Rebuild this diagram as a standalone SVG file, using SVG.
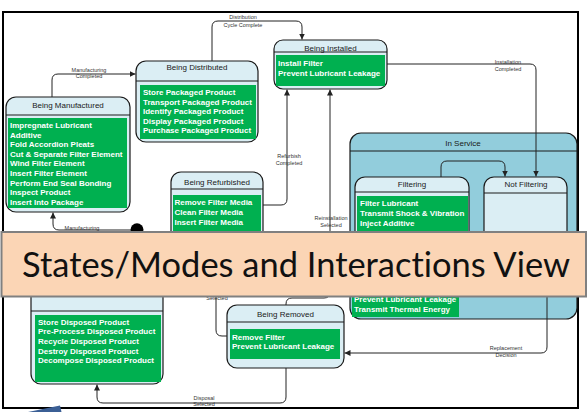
<svg xmlns="http://www.w3.org/2000/svg" width="587" height="412" viewBox="0 0 587 412">
<style>
.box{fill:#dbeef4;stroke:#1a1a1a;stroke-width:1.2}
.svc{fill:#92cddc;stroke:#1a1a1a;stroke-width:1.2}
.sep{stroke:#1a1a1a;stroke-width:1}
.act{fill:#00b050}
.title{font-family:"Liberation Sans",Arial,sans-serif;font-size:8px;fill:#1a1a1a;text-anchor:middle}
.a{font-family:"Liberation Sans",Arial,sans-serif;font-size:8px;font-weight:bold;fill:#ffffff}
.lbl{font-family:"Liberation Sans",Arial,sans-serif;font-size:5.5px;fill:#333333;text-anchor:middle}
.conn{fill:none;stroke:#222222;stroke-width:1}
.ban{font-family:Lato,"Open Sans",sans-serif;font-size:35px;fill:#111111;font-variant-ligatures:none}
</style>
<defs>
<marker id="arr" markerUnits="userSpaceOnUse" markerWidth="6" markerHeight="6" refX="6" refY="3" orient="auto">
<path d="M0,0 L6,3 L0,6 z" fill="#222222"/>
</marker>
</defs>
<rect x="0" y="0" width="587" height="412" fill="#ffffff"/>
<rect x="3" y="12" width="575" height="396" fill="none" stroke="#000000" stroke-width="2"/>

<g id="in-service">
<rect class="svc" x="350" y="133" width="227" height="186" rx="11"/>
<line class="sep" x1="350" y1="151" x2="577" y2="151"/>
<text class="title" x="463" y="145.5">In Service</text>
<rect class="act" x="352" y="268" width="107" height="49"/>
<text class="a" x="354" y="302">Prevent Lubricant Leakage</text>
<text class="a" x="354" y="312">Transmit Thermal Energy</text>
</g>

<g id="filtering">
<rect class="box" x="355" y="177" width="114" height="113" rx="10"/>
<line class="sep" x1="355" y1="192" x2="469" y2="192"/>
<text class="title" x="412" y="186.5">Filtering</text>
<rect class="act" x="357" y="196" width="111" height="92"/>
<text class="a" x="360" y="206">Filter Lubricant</text>
<text class="a" x="360" y="216">Transmit Shock &amp; Vibration</text>
<text class="a" x="360" y="226">Inject Additive</text>
</g>

<g id="not-filtering">
<rect class="box" x="484" y="177" width="83" height="113" rx="10"/>
<line class="sep" x1="484" y1="193" x2="567" y2="193"/>
<text class="title" x="526" y="187">Not Filtering</text>
</g>

<g id="being-manufactured">
<rect class="box" x="6" y="97" width="124" height="115" rx="10"/>
<line class="sep" x1="6" y1="115" x2="130" y2="115"/>
<text class="title" x="68" y="107.5">Being Manufactured</text>
<rect class="act" x="8" y="118" width="119" height="90"/>
<text class="a" x="10" y="128">Impregnate Lubricant</text>
<text class="a" x="10" y="137.6">Additive</text>
<text class="a" x="10" y="147.2">Fold Accordion Pleats</text>
<text class="a" x="10" y="156.8">Cut &amp; Separate Filter Element</text>
<text class="a" x="10" y="166.4">Wind Filter Element</text>
<text class="a" x="10" y="176">Insert Filter Element</text>
<text class="a" x="10" y="185.6">Perform End Seal Bonding</text>
<text class="a" x="10" y="195.2">Inspect Product</text>
<text class="a" x="10" y="204.8">Insert Into Package</text>
</g>

<g id="being-distributed">
<rect class="box" x="136" y="61" width="122" height="81" rx="10"/>
<line class="sep" x1="136" y1="81" x2="258" y2="81"/>
<text class="title" x="197" y="70">Being Distributed</text>
<rect class="act" x="140" y="85" width="116" height="54"/>
<text class="a" x="143" y="95">Store Packaged Product</text>
<text class="a" x="143" y="104.5">Transport Packaged Product</text>
<text class="a" x="143" y="114">Identify Packaged Product</text>
<text class="a" x="143" y="123.5">Display Packaged Product</text>
<text class="a" x="143" y="133">Purchase Packaged Product</text>
</g>

<g id="being-installed">
<rect class="box" x="274" y="40" width="113" height="49" rx="9"/>
<line class="sep" x1="274" y1="52" x2="387" y2="52"/>
<text class="title" x="330.5" y="50.5">Being Installed</text>
<rect class="act" x="276" y="55" width="109" height="31"/>
<text class="a" x="278" y="65.5">Install Filter</text>
<text class="a" x="278" y="75.5">Prevent Lubricant Leakage</text>
</g>

<g id="being-refurbished">
<rect class="box" x="171" y="172" width="92" height="118" rx="10"/>
<line class="sep" x1="171" y1="189" x2="263" y2="189"/>
<text class="title" x="217" y="184.5">Being Refurbished</text>
<rect class="act" x="173" y="195" width="88" height="90"/>
<text class="a" x="174.5" y="205">Remove Filter Media</text>
<text class="a" x="174.5" y="215">Clean Filter Media</text>
<text class="a" x="174.5" y="224.5">Insert Filter Media</text>
</g>

<g id="being-disposed">
<rect class="box" x="31" y="240" width="132" height="144" rx="10"/>
<line class="sep" x1="31" y1="311" x2="163" y2="311"/>
<rect class="act" x="35" y="315" width="126" height="67"/>
<text class="a" x="38" y="324.5">Store Disposed Product</text>
<text class="a" x="38" y="334">Pre-Process Disposed Product</text>
<text class="a" x="38" y="343.5">Recycle Disposed Product</text>
<text class="a" x="38" y="353.5">Destroy Disposed Product</text>
<text class="a" x="38" y="363">Decompose Disposed Product</text>
</g>

<g id="being-removed">
<rect class="box" x="227" y="305" width="117" height="63" rx="10"/>
<line class="sep" x1="227" y1="322" x2="344" y2="322"/>
<text class="title" x="285.5" y="316.5">Being Removed</text>
<rect class="act" x="230" y="329" width="110" height="30"/>
<text class="a" x="232" y="339.5">Remove Filter</text>
<text class="a" x="232" y="348.5">Prevent Lubricant Leakage</text>
</g>

<g id="initial">
<circle cx="137" cy="229.8" r="6.5" fill="#000000"/>
</g>

<g id="connectors">
<path class="conn" d="M52,97 V80 Q52,74 58,74 H135.5" marker-end="url(#arr)"/>
<text class="lbl" x="89" y="72">Manufacturing</text>
<text class="lbl" x="89" y="78">Completed</text>

<path class="conn" d="M212,61 V27 Q212,21 218,21 H296 Q302,21 302,27 V39.5" marker-end="url(#arr)"/>
<text class="lbl" x="243" y="19">Distribution</text>
<text class="lbl" x="243" y="26.5">Cycle Complete</text>

<path class="conn" d="M387,64 H530 Q536,64 536,70 V176.5" marker-end="url(#arr)"/>
<text class="lbl" x="508" y="64">Installation</text>
<text class="lbl" x="508" y="71">Completed</text>

<path class="conn" d="M263,205 H281 Q287,205 287,199 V89.5" marker-end="url(#arr)"/>
<text class="lbl" x="289" y="157.5">Refurbish</text>
<text class="lbl" x="289" y="164.5">Completed</text>

<path class="conn" d="M286,305 V304 Q286,298 292,298 H324 Q330,298 330,292 V89.5" marker-end="url(#arr)"/>
<text class="lbl" x="331" y="219.5">Reinstallation</text>
<text class="lbl" x="331" y="227">Selected</text>

<path class="conn" d="M227,336 H222 Q216,336 216,330 V290.5" marker-end="url(#arr)"/>
<text class="lbl" x="217" y="299.5">Selected</text>

<path class="conn" d="M547,285 V347 Q547,353 541,353 H344.5" marker-end="url(#arr)"/>
<text class="lbl" x="506" y="350">Replacement</text>
<text class="lbl" x="506" y="357">Decision</text>

<path class="conn" d="M286,368 V397 Q286,403 280,403 H103 Q97,403 97,397 V384.5" marker-end="url(#arr)"/>
<text class="lbl" x="204" y="400">Disposal</text>
<text class="lbl" x="204" y="406">Selected</text>

<path class="conn" d="M131,230 H59 Q53,230 53,224 V212.5" marker-end="url(#arr)"/>
<text class="lbl" x="82" y="230">Manufacturing</text>

<path class="conn" d="M441,177 V167 Q441,161 447,161 H499 Q505,161 505,167 V176.5" marker-end="url(#arr)"/>
</g>

<g id="banner">
<rect x="1.5" y="232" width="584.5" height="64.5" fill="#fbd5b5" stroke="#808080" stroke-width="2"/>
<text class="ban" x="22" y="277" textLength="548" lengthAdjust="spacingAndGlyphs">States/Modes and Interactions View</text>
</g>

<polygon points="28,412 60,405.5 61.5,412" fill="#3b5f95"/>
</svg>
